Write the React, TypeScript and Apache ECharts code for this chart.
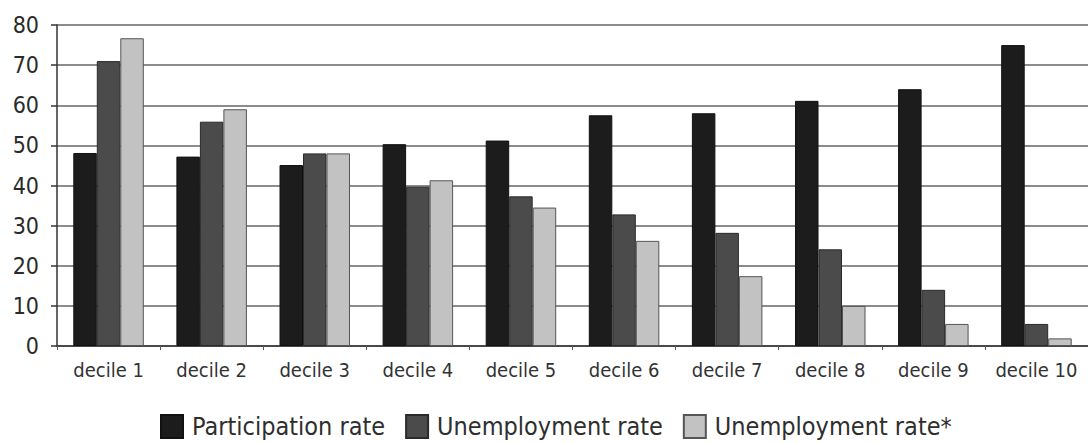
import React, { useEffect, useRef } from "react";
import * as echarts from "echarts";

const categories = ["decile 1", "decile 2", "decile 3", "decile 4", "decile 5", "decile 6", "decile 7", "decile 8", "decile 9", "decile 10"];
const participationRate = [48.1, 47.2, 45.1, 50.3, 51.2, 57.5, 58.0, 61.1, 64.0, 75.0];
const unemploymentRate = [71.0, 55.9, 48.0, 39.7, 37.3, 32.8, 28.2, 24.1, 14.0, 5.5];
const unemploymentRateStar = [76.7, 59.0, 48.0, 41.3, 34.5, 26.2, 17.4, 10.0, 5.5, 1.9];
const seriesNames = ["Participation rate", "Unemployment rate", "Unemployment rate*"];
const yTicks = { min: 0, max: 80, interval: 10 };

const FONT = "'DejaVu Sans Condensed', 'DejaVu Sans', sans-serif";

export default function App() {
  const ref = useRef<HTMLDivElement>(null);
  useEffect(() => {
    if (!ref.current) return;
    const chart = echarts.init(ref.current, null, { renderer: "svg" });
    const barStyle = (color: string, border: string) => ({
      type: "bar" as const,
      barWidth: 23.5,
      barGap: "0%",
      itemStyle: { color, borderColor: border, borderWidth: 1 },
    });
    chart.setOption({
      animation: false,
      backgroundColor: "#ffffff",
      grid: { left: 57, top: 25, width: 1044, height: 321, containLabel: false },
      legend: {
        left: 160,
        top: 414,
        padding: 0,
        itemWidth: 22,
        itemHeight: 23,
        itemGap: 20,
        textStyle: { fontFamily: FONT, fontSize: 25, lineHeight: 25, color: "#2e2e2e", padding: [0, 0, 0, 4] },
        data: seriesNames.map((n) => ({ name: n, icon: "rect" })),
      },
      xAxis: {
        type: "category",
        data: categories,
        boundaryGap: true,
        axisLine: { lineStyle: { color: "#333", width: 1.5 } },
        axisTick: { show: true, length: 4, lineStyle: { color: "#555" } },
        axisLabel: { fontFamily: FONT, fontSize: 20, color: "#333", margin: 14, interval: 0 },
      },
      yAxis: {
        type: "value",
        min: yTicks.min,
        max: yTicks.max,
        interval: yTicks.interval,
        axisLine: { show: true, lineStyle: { color: "#333", width: 1.5 } },
        axisTick: { show: true, length: 6, lineStyle: { color: "#333", width: 1.5 } },
        axisLabel: { fontFamily: FONT, fontSize: 23, color: "#2a2a2a", margin: 18 },
        splitLine: { lineStyle: { color: "#666", width: 1.5 } },
      },
      series: [
        { name: seriesNames[0], data: participationRate, ...barStyle("#1c1c1c", "#111") },
        { name: seriesNames[1], data: unemploymentRate, ...barStyle("#4b4b4b", "#2a2a2a") },
        { name: seriesNames[2], data: unemploymentRateStar, ...barStyle("#c2c2c2", "#555") },
      ],
    });
    return () => chart.dispose();
  }, []);
  return <div ref={ref} style={{ position: "absolute", left: 0, top: 0, width: 1088, height: 443, background: "#fff" }} />;
}
